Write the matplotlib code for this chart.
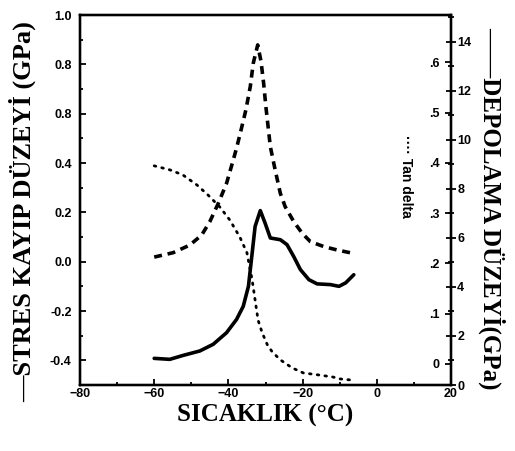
import matplotlib.pyplot as plt
from matplotlib.ticker import MultipleLocator, FixedLocator

# --- Data ---
# solid: stress loss (left axis, GPa)
loss_temp = [-60, -55.8, -52.2, -47.7, -44.1, -40.5, -37.8, -36, -34.6, -33.7, -32.8,
             -31.4, -30.1, -28.7, -26, -24.2, -22.4, -20.6, -18.3, -16.1, -12.5, -10.2,
             -8.4, -6.2]
loss_val = [-0.392, -0.396, -0.380, -0.362, -0.335, -0.288, -0.234, -0.181, -0.100, 0.021,
            0.143, 0.207, 0.156, 0.096, 0.089, 0.069, 0.021, -0.032, -0.073, -0.090,
            -0.093, -0.100, -0.086, -0.053]

# dashed: storage level (right axis, GPa)
stor_temp = [-60, -54.9, -50.4, -47.2, -45, -42.7, -40.5, -38.7, -37.8, -36.6, -35.3,
             -34.1, -33.3, -32.1, -31.2, -30.5, -29.9, -29.2, -28.7, -27.4, -26, -24.7,
             -22.4, -20.1, -17.9, -14.3, -10.7, -6.6]
stor_val = [5.22, 5.40, 5.71, 6.12, 6.67, 7.42, 8.23, 9.18, 9.67, 10.4, 11.22,
            12.18, 13.13, 13.88, 13.2, 12.31, 11.36, 10.41, 9.73, 8.78, 7.82, 7.28,
            6.67, 6.19, 5.85, 5.65, 5.51, 5.38]

# dotted: tan delta (inner right scale)
tan_temp = [-60, -55.8, -52.3, -48.5, -45.5, -42.3, -39.6, -36.9, -35, -33.6, -32.8,
            -32, -30.9, -29.5, -28.2, -26, -22.8, -19.8, -15.7, -11.9, -9.8, -7]
tan_val = [0.394, 0.386, 0.376, 0.356, 0.336, 0.312, 0.286, 0.252, 0.221, 0.167, 0.127,
           0.087, 0.062, 0.038, 0.024, 0.008, -0.008, -0.018, -0.022, -0.026, -0.030, -0.032]

x_ticks = [-80, -60, -40, -20, 0, 20]
left_ticks = [-0.4, -0.2, 0.0, 0.2, 0.4, 0.6, 0.8, 1.0]
left_labels = ["-0.4", "-0.2", "0.0", "0.2", "0.4", "0.8", "0.8", "1.0"]
stor_ticks = [0, 2, 4, 6, 8, 10, 12, 14]
tan_ticks = [0, 0.1, 0.2, 0.3, 0.4, 0.5, 0.6]
tan_labels = ["0", ".1", ".2", ".3", ".4", ".5", ".6"]

SERIF = "Liberation Serif"
SANS = "Liberation Sans"

fig = plt.figure(figsize=(5.15, 4.51), dpi=100)
ax = fig.add_axes([80 / 515, 66 / 451, 371 / 515, 370 / 451])
ax2 = ax.twinx()
ax3 = ax.twinx()

ax.plot(loss_temp, loss_val, color="black", lw=2.6, solid_capstyle="round",
        solid_joinstyle="round")
ax2.plot(stor_temp, stor_val, color="black", lw=2.6, linestyle=(0, (2.2, 1.6)))
ax3.plot(tan_temp, tan_val, color="black", lw=2.0, linestyle=(0, (0.6, 2.2)),
         dash_capstyle="round")

ax.set_xlim(-80, 20)
ax.set_ylim(-0.5, 1.0)
ax2.set_ylim(0, 15.1)
ax3.set_ylim(-0.042, 0.694)

for a in (ax, ax2, ax3):
    for s in a.spines.values():
        s.set_linewidth(1.6)

ax.set_xticks(x_ticks)
ax.xaxis.set_minor_locator(MultipleLocator(10))
ax.set_yticks(left_ticks)
ax.set_yticklabels(left_labels)
ax.yaxis.set_minor_locator(MultipleLocator(0.1))
ax.tick_params(which="both", direction="in", width=1.3)
ax.tick_params(which="major", length=4, labelsize=9, pad=6)
ax.tick_params(axis="x", which="major", pad=2)
ax.tick_params(which="minor", length=2.5)

ax2.set_yticks(stor_ticks)
ax2.yaxis.set_minor_locator(MultipleLocator(1))
ax2.tick_params(which="both", direction="inout", width=1.3)
ax2.tick_params(which="major", length=7, labelsize=9, pad=1)
ax2.tick_params(which="minor", length=4)

ax3.yaxis.set_major_locator(FixedLocator(tan_ticks))
ax3.set_yticklabels(tan_labels)
ax3.tick_params(axis="y", direction="in", length=4, width=1.3, labelsize=9, pad=-8)
for t in ax3.get_yticklabels():
    t.set_horizontalalignment("right")

for a in (ax, ax2, ax3):
    for t in a.get_xticklabels() + a.get_yticklabels():
        t.set_fontfamily(SANS)
        t.set_fontweight("bold")

ax.set_xlabel("SICAKLIK (°C)", fontsize=18, fontfamily=SERIF, fontweight="bold", labelpad=3)

fig.text(22 / 515, 1 - 212 / 451, "—STRES KAYIP DÜZEYİ (GPa)", rotation=90,
         ha="center", va="center", fontsize=19, fontfamily=SERIF, fontweight="bold")
fig.text(492 / 515, 1 - 208 / 451, "——DEPOLAMA DÜZEYİ(GPa)", rotation=270,
         ha="center", va="center", fontsize=18, fontfamily=SERIF, fontweight="bold")
fig.text(406 / 515, 1 - 176 / 451, "···· Tan delta", rotation=270,
         ha="center", va="center", fontsize=10, fontfamily=SANS, fontweight="bold")

fig.savefig("out.png", dpi=100)
